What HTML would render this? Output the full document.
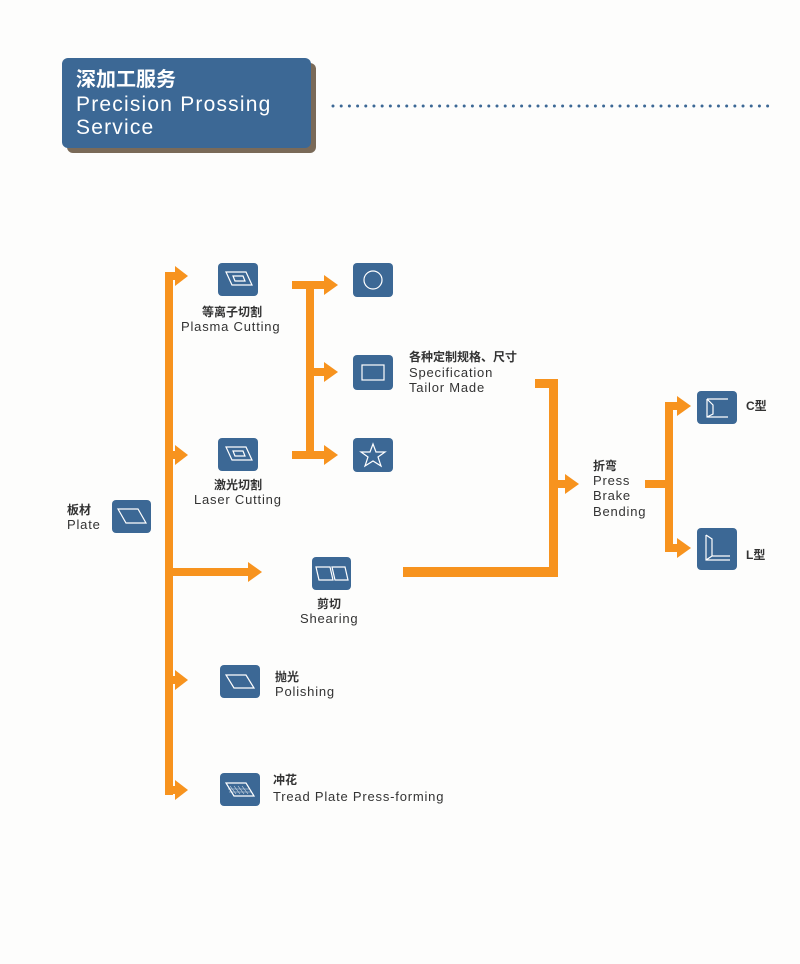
<!DOCTYPE html>
<html><head><meta charset="utf-8"><style>
html,body{margin:0;padding:0;background:#fff}
svg{display:block}
text{font-family:"Liberation Sans","Noto Sans CJK SC",sans-serif;fill:#333}
.cn{font-weight:bold;font-size:12px}
.en{font-size:13px;letter-spacing:0.8px}
</style></head><body>
<svg width="800" height="964" viewBox="0 0 800 964" xmlns="http://www.w3.org/2000/svg">
<rect width="800" height="964" fill="#fdfdfc"/>
<!-- header -->
<rect x="67" y="63" width="249" height="90" rx="6" fill="#7a6a58"/>
<rect x="62" y="58" width="249" height="90" rx="6" fill="#3c6895"/>
<text x="76" y="86" style="font-size:20px;font-weight:bold;fill:#fff">深加工服务</text>
<text x="76" y="111" style="font-size:21px;fill:#fff;letter-spacing:1.2px">Precision Prossing</text>
<text x="76" y="134" style="font-size:21px;fill:#fff;letter-spacing:1.2px">Service</text>
<line x1="333" y1="106" x2="770" y2="106" stroke="#3c6895" stroke-width="3" stroke-dasharray="0,8.2" stroke-linecap="round"/>

<g fill="#f7931e">
<rect x="165" y="272" width="8" height="523"/>
<rect x="165" y="272" width="12" height="8"/><polygon points="175,266 188,276 175,286"/>
<rect x="165" y="451" width="12" height="8"/><polygon points="175,445 188,455 175,465"/>
<rect x="165" y="568" width="85" height="8"/><polygon points="248,562 262,572 248,582"/>
<rect x="165" y="676" width="12" height="8"/><polygon points="175,670 188,680 175,690"/>
<rect x="165" y="786" width="12" height="8"/><polygon points="175,780 188,790 175,800"/>
<rect x="292" y="281" width="34" height="8"/><polygon points="324,275 338,285 324,295"/>
<rect x="306" y="281" width="8" height="178"/>
<rect x="306" y="368" width="20" height="8"/><polygon points="324,362 338,372 324,382"/>
<rect x="292" y="451" width="34" height="8"/><polygon points="324,445 338,455 324,465"/>
<rect x="403" y="567" width="155" height="10"/>
<rect x="549" y="379" width="9" height="198"/>
<rect x="535" y="379" width="23" height="9"/>
<rect x="549" y="480" width="18" height="8"/><polygon points="565,474 579,484 565,494"/>
<rect x="645" y="480" width="28" height="8"/>
<rect x="665" y="402" width="8" height="150"/>
<rect x="665" y="402" width="14" height="8"/><polygon points="677,396 691,406 677,416"/>
<rect x="665" y="544" width="14" height="8"/><polygon points="677,538 691,548 677,558"/>
</g>

<g fill="#3c6895">
<rect x="218" y="263" width="40" height="33" rx="4"/>
<rect x="218" y="438" width="40" height="33" rx="4"/>
<rect x="353" y="263" width="40" height="34" rx="4"/>
<rect x="353" y="355" width="40" height="35" rx="4"/>
<rect x="353" y="438" width="40" height="34" rx="4"/>
<rect x="112" y="500" width="39" height="33" rx="4"/>
<rect x="312" y="557" width="39" height="33" rx="4"/>
<rect x="220" y="665" width="40" height="33" rx="4"/>
<rect x="220" y="773" width="40" height="33" rx="4"/>
<rect x="697" y="391" width="40" height="33" rx="4"/>
<rect x="697" y="528" width="40" height="42" rx="4"/>
</g>
<g fill="none" stroke="#fff" stroke-width="1.2">
<polygon points="226,272 246,272 252,285 232,285"/><polygon points="233,276 243,276 245,281 235,281"/>
<polygon points="226,447 246,447 252,460 232,460"/><polygon points="233,451 243,451 245,456 235,456"/>
<circle cx="373" cy="280" r="9"/>
<rect x="362" y="365" width="22" height="15"/>
<polygon points="373,444 376,452 385,452 378,457 381,466 373,461 365,466 368,457 361,452 370,452"/>
<polygon points="118,509 138,509 146,523 126,523"/>
<polygon points="316,567 330,567 333,580 319,580"/><polygon points="332,567 345,567 348,580 335,580"/>
<polygon points="226,675 246,675 254,688 234,688"/>
<polygon points="226,783 246,783 254,796 234,796"/>
<path d="M707 399 L728 399 M707 399 L707 417 L728 417 M707 399 L713 405 L713 414 L707 417"/>
<path d="M706 535 L706 560 L730 560 M706 535 L712 539 L712 556 L730 556 M712 556 L706 560"/>
</g>
<g stroke="#fff" stroke-width="0.6" opacity="0.8">
<line x1="230" y1="786" x2="236" y2="794"/><line x1="234" y1="786" x2="240" y2="794"/><line x1="238" y1="786" x2="244" y2="794"/><line x1="242" y1="786" x2="248" y2="794"/><line x1="228" y1="789" x2="250" y2="789"/><line x1="229" y1="792" x2="251" y2="792"/>
</g>

<text class="cn" x="202" y="316">等离子切割</text>
<text class="en" x="181" y="331">Plasma Cutting</text>
<text class="cn" x="214" y="489">激光切割</text>
<text class="en" x="194" y="504">Laser Cutting</text>
<text class="cn" x="409" y="361">各种定制规格、尺寸</text>
<text class="en" x="409" y="377">Specification</text>
<text class="en" x="409" y="392">Tailor Made</text>
<text class="cn" x="67" y="514">板材</text>
<text class="en" x="67" y="529">Plate</text>
<text class="cn" x="317" y="608">剪切</text>
<text class="en" x="300" y="623">Shearing</text>
<text class="cn" x="275" y="681">抛光</text>
<text class="en" x="275" y="696">Polishing</text>
<text class="cn" x="273" y="784">冲花</text>
<text class="en" x="273" y="801">Tread Plate Press-forming</text>
<text class="cn" x="593" y="470">折弯</text>
<text class="en" x="593" y="485">Press</text>
<text class="en" x="593" y="500">Brake</text>
<text class="en" x="593" y="516">Bending</text>
<text class="cn" x="746" y="410">C型</text>
<text class="cn" x="746" y="559">L型</text>
</svg>
</body></html>
